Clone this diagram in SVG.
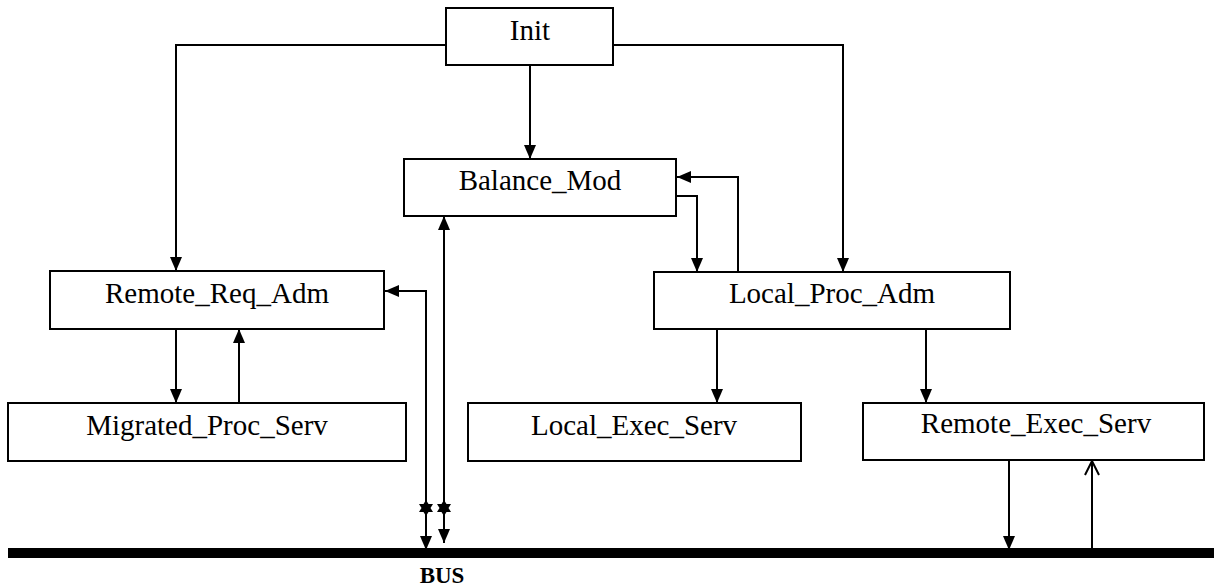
<svg xmlns="http://www.w3.org/2000/svg" width="1214" height="586" viewBox="0 0 1214 586">
<style>
.box{fill:#fff;stroke:#000;stroke-width:2}
.lbl{font-family:"Liberation Serif","Times New Roman",serif;font-size:29px;fill:#000;text-anchor:middle}
.c{fill:none;stroke:#000;stroke-width:2}
</style>
<defs>
<marker id="ah" markerUnits="userSpaceOnUse" markerWidth="16" markerHeight="16" viewBox="0 0 16 16" refX="15" refY="8" orient="auto">
<path d="M1,2 L15,8 L1,14 Z" fill="#000"/>
</marker>
<marker id="oh" markerUnits="userSpaceOnUse" markerWidth="16" markerHeight="16" viewBox="0 0 16 16" refX="15" refY="8" orient="auto">
<path d="M1,1 L15,8 L1,15" fill="none" stroke="#000" stroke-width="2"/>
</marker>
<polygon id="star" points="0,-8 2.5,-4 7,-4 4.5,0 7,4 2.5,4 0,8 -2.5,4 -7,4 -4.5,0 -7,-4 -2.5,-4" fill="#000"/>
</defs>
<g id="connectors">
<polyline class="c" points="446,45 176,45 176,271" marker-end="url(#ah)"/>
<polyline class="c" points="613,45 843,45 843,272" marker-end="url(#ah)"/>
<line class="c" x1="530" y1="65" x2="530" y2="159" marker-end="url(#ah)"/>
<polyline class="c" points="738,272 738,177 677,177" marker-end="url(#ah)"/>
<polyline class="c" points="676,196 697,196 697,272" marker-end="url(#ah)"/>
<line class="c" x1="176" y1="329" x2="176" y2="403" marker-end="url(#ah)"/>
<line class="c" x1="239" y1="403" x2="239" y2="329" marker-end="url(#ah)"/>
<line class="c" x1="717" y1="329" x2="717" y2="403" marker-end="url(#ah)"/>
<line class="c" x1="926" y1="329" x2="926" y2="403" marker-end="url(#ah)"/>
<polyline class="c" points="426,548 426,291 385,291" marker-end="url(#ah)"/>
<line class="c" x1="426" y1="520" x2="426" y2="550" marker-end="url(#ah)"/>
<line class="c" x1="444" y1="500" x2="444" y2="216" marker-end="url(#ah)"/>
<line class="c" x1="444" y1="500" x2="444" y2="543" marker-end="url(#ah)"/>
<use href="#star" x="426" y="508"/>
<use href="#star" x="444" y="508"/>
<line class="c" x1="1009" y1="460" x2="1009" y2="550" marker-end="url(#ah)"/>
<line class="c" x1="1092" y1="548" x2="1092" y2="461" marker-end="url(#oh)"/>
</g>
<g id="init"><rect class="box" x="446" y="8" width="167" height="57"/><text class="lbl" x="530" y="40">Init</text></g>
<g id="balance_mod"><rect class="box" x="404" y="159" width="272" height="57"/><text class="lbl" x="540" y="190">Balance_Mod</text></g>
<g id="remote_req_adm"><rect class="box" x="50" y="271" width="334" height="58"/><text class="lbl" x="217" y="303">Remote_Req_Adm</text></g>
<g id="local_proc_adm"><rect class="box" x="654" y="272" width="356" height="57"/><text class="lbl" x="832" y="303">Local_Proc_Adm</text></g>
<g id="migrated_proc_serv"><rect class="box" x="8" y="403" width="398" height="58"/><text class="lbl" x="207" y="435">Migrated_Proc_Serv</text></g>
<g id="local_exec_serv"><rect class="box" x="468" y="403" width="333" height="58"/><text class="lbl" x="634" y="435">Local_Exec_Serv</text></g>
<g id="remote_exec_serv"><rect class="box" x="863" y="403" width="341" height="57"/><text class="lbl" x="1036" y="433">Remote_Exec_Serv</text></g>
<g id="bus"><rect x="8" y="548" width="1206" height="10" fill="#000"/><text x="442" y="583" style="font-family:'Liberation Serif','Times New Roman',serif;font-size:23px;font-weight:bold;text-anchor:middle">BUS</text></g>
</svg>
